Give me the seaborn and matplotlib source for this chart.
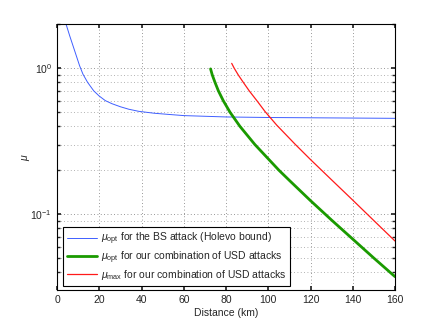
import numpy as np
import pandas as pd
import seaborn as sns
import matplotlib
matplotlib.use("Agg")
import matplotlib.pyplot as plt
from matplotlib.ticker import LogLocator, NullFormatter, MultipleLocator

# Data
bs_dist = [4.26, 6, 7.9, 10.7, 12.3, 14.5, 17.4, 20, 22.9, 26, 30, 34, 38.7, 46, 52, 60, 80, 100, 120, 140, 160]
bs_mu = [2.01, 1.67, 1.38, 1.04, 0.91, 0.8, 0.7, 0.645, 0.6, 0.572, 0.545, 0.524, 0.507, 0.492, 0.484, 0.474, 0.464, 0.46, 0.458, 0.456, 0.454]

opt_dist = [72.7, 73.5, 74.8, 76.4, 78.7, 81.9, 86.6, 93.7, 105.1, 110.3, 120, 130, 140, 150, 160]
opt_mu = [0.99, 0.9, 0.8, 0.7, 0.6, 0.5, 0.4, 0.3, 0.2, 0.169, 0.124, 0.0912, 0.0676, 0.0501, 0.0374]

max_dist = [82.7, 83.9, 85.8, 88.2, 91.0, 94.8, 98.5, 104, 112.7, 120, 130, 140, 150, 160]
max_mu = [1.08, 1.0, 0.9, 0.8, 0.7, 0.595, 0.505, 0.408, 0.302, 0.237, 0.172, 0.125, 0.0905, 0.0656]

labels = [r"$\mu_{\mathrm{opt}}$ for the BS attack (Holevo bound)",
          r"$\mu_{\mathrm{opt}}$ for our combination of USD attacks",
          r"$\mu_{\mathrm{max}}$ for our combination of USD attacks"]
colors = ["#3f5fff", "#1a9a00", "#ff1a1a"]
widths = [0.7, 2.0, 0.9]

sns.set_theme(style="ticks")
plt.rcParams['font.family'] = ['Liberation Sans', 'DejaVu Sans']
plt.rcParams['mathtext.fontset'] = 'custom'
plt.rcParams['mathtext.rm'] = 'Liberation Sans'
plt.rcParams['mathtext.it'] = 'Liberation Sans:italic'

fig = plt.figure(figsize=(4.36, 3.28), dpi=100)
ax = fig.add_axes([57/436, 1-290/328, 338/436, (290-24.3)/328])

series = [(bs_dist, bs_mu), (opt_dist, opt_mu), (max_dist, max_mu)]
for (d, m), lab, c, w in zip(series, labels, colors, widths):
    df = pd.DataFrame({"d": d, "mu": m})
    sns.lineplot(data=df, x="d", y="mu", ax=ax, color=c, lw=w, label=lab, sort=False)

ax.set_yscale("log")
ax.set_xlim(0, 160)
ax.set_ylim(0.0303, 2.0)
ax.xaxis.set_major_locator(MultipleLocator(20))
ax.yaxis.set_major_locator(LogLocator(base=10))
ax.yaxis.set_minor_locator(LogLocator(base=10, subs=np.arange(2, 10)))
ax.yaxis.set_minor_formatter(NullFormatter())

ax.grid(True, which="major", axis="both", linestyle=(0, (1, 3)), color="#777777", lw=0.6)
ax.grid(True, which="minor", axis="y", linestyle=(0, (1, 3)), color="#999999", lw=0.6)

ax.tick_params(which="both", direction="in", top=True, right=True, labelsize=7.5, length=3)
ax.tick_params(which="minor", length=2)
for s in ax.spines.values():
    s.set_linewidth(0.8)
    s.set_color("black")

ax.set_xlabel("Distance (km)", fontsize=7.5, labelpad=2)
ax.set_ylabel(r"$\mu$", fontsize=7.5, labelpad=-1)

leg = ax.legend(loc="lower left", bbox_to_anchor=(0.0186, 0.016), borderaxespad=0,
                fontsize=7.5, frameon=True, fancybox=False, handlelength=2.9,
                labelspacing=0.22, borderpad=0.35, handletextpad=0.4)
leg.get_frame().set_edgecolor("black")
leg.get_frame().set_linewidth(0.8)
leg.get_frame().set_alpha(1)

fig.savefig("out.png", dpi=100)
